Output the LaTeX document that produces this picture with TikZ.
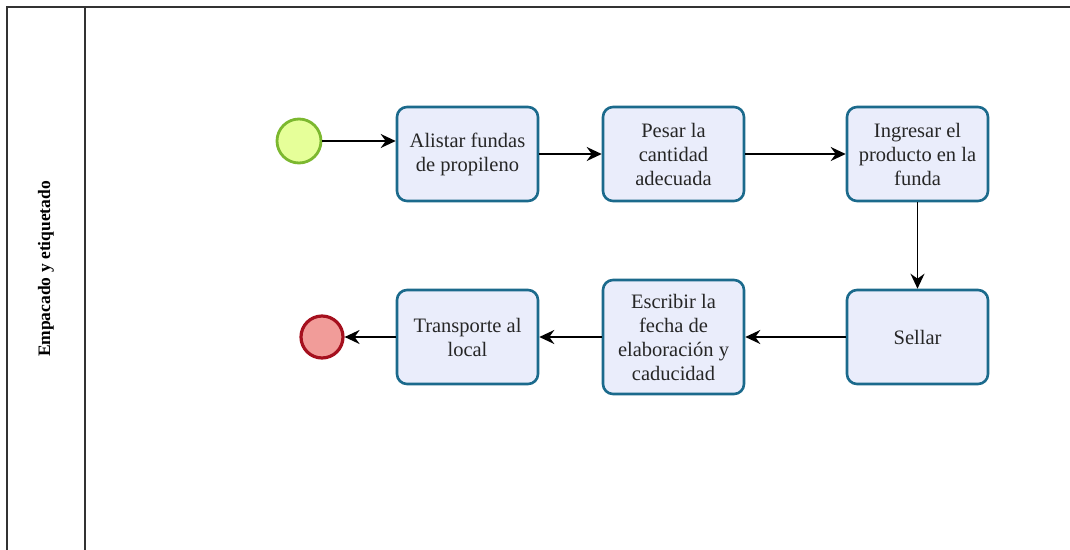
\documentclass[tikz,border=0pt]{standalone}
\usepackage{fontspec}
\setmainfont{Liberation Serif}
\usetikzlibrary{arrows.meta}
\definecolor{taskfill}{HTML}{EAEDFB}
\definecolor{taskline}{HTML}{1B6A8C}
\definecolor{startfill}{HTML}{E6FF99}
\definecolor{startline}{HTML}{7CB82F}
\definecolor{endfill}{HTML}{F19C99}
\definecolor{endline}{HTML}{A5101E}
\definecolor{lanegray}{HTML}{333333}
\tikzset{
  task/.style={draw=taskline, fill=taskfill, line width=2.6pt, rounded corners=10pt,
    minimum width=141pt, minimum height=94pt, align=center, text=black!85,
    font=\fontsize{20.5}{24}\selectfont, inner sep=2pt},
  startev/.style={circle, draw=startline, fill=startfill, line width=2.8pt, minimum size=44pt, inner sep=0pt},
  endev/.style={circle, draw=endline, fill=endfill, line width=3.2pt, minimum size=42pt, inner sep=0pt},
  flow/.style={line width=1.9pt, -{Stealth[length=15pt, width=14pt, inset=5pt]}},
  lane/.style={draw=lanegray, line width=1.6pt}
}
\begin{document}
\begin{tikzpicture}[x=1pt, y=-1pt]
\useasboundingbox (0,0) rectangle (1070,549);
% swimlane frame
\draw[lane] (7,550) -- (7,7) -- (1071,7);
\draw[lane] (85,7) -- (85,550);
\node[rotate=90, font=\bfseries\fontsize{17.5}{20}\selectfont] (lanetitle) at (46,269) {Empacado y etiquetado};
% events and tasks
\node[startev] (start) at (299,141) {};
\node[task] (a) at (467.5,154) {Alistar fundas\\de propileno};
\node[task] (b) at (673.5,154) {Pesar la\\cantidad\\adecuada};
\node[task] (c) at (917.5,154) {Ingresar el\\producto en la\\funda};
\node[task] (d) at (917.5,337) {Sellar};
\node[task, minimum height=114pt] (e) at (673.5,337) {Escribir la\\fecha de\\elaboración y\\caducidad};
\node[task] (f) at (467.5,337) {Transporte al\\local};
\node[endev] (end) at (322,337) {};
% sequence flows
\draw[flow] (start.east) -- (start.east -| a.west);
\draw[flow] (a) -- (b);
\draw[flow] (b) -- (c);
\draw[flow] (c) -- (d);
\draw[flow] (d) -- (e);
\draw[flow] (e) -- (f);
\draw[flow] (f) -- (end);
\end{tikzpicture}
\end{document}
